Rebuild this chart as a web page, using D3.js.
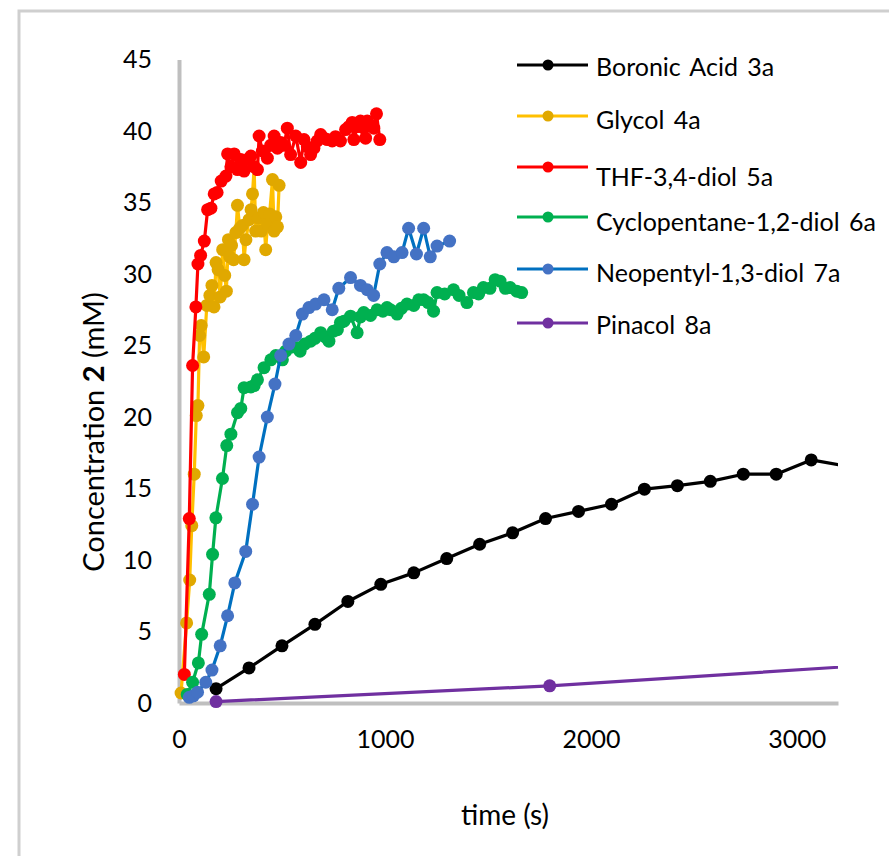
<!DOCTYPE html>
<html>
<head>
<meta charset="utf-8">
<script src="https://cdn.jsdelivr.net/npm/d3@7"></script>
<style>
  body { margin: 0; background: #fff; }
  svg { display: block; }
  text { font-family: Lato, "Open Sans", sans-serif; fill: #000; }
</style>
</head>
<body>
<svg id="chart" width="889" height="856"></svg>
<script>
// Time (s) / concentration (mM) pairs for each diol series
const boronicAcid = [
  [180, 1.0], [340, 2.45], [500, 4.0], [660, 5.5], [820, 7.1], [980, 8.3],
  [1140, 9.1], [1300, 10.1], [1460, 11.1], [1620, 11.9], [1780, 12.9], [1940, 13.4],
  [2100, 13.9], [2260, 14.95], [2420, 15.2], [2580, 15.5], [2740, 16.0], [2900, 16.0],
  [3070, 17.0], [3380, 16.2]
];
const glycol = [
  [10, 0.7], [37, 5.6], [52, 8.6], [62, 12.4], [74, 16.0], [84, 20.1], [92, 20.8],
  [100, 25.7], [108, 26.4], [120, 24.2], [135, 27.8], [150, 28.5], [160, 29.2],
  [170, 27.7], [180, 30.8], [190, 30.3], [200, 28.4], [212, 31.7], [222, 29.9],
  [230, 28.8], [240, 32.4], [246, 31.2], [255, 32.0], [265, 31.0], [276, 32.9],
  [284, 34.8], [295, 33.2], [308, 33.4], [316, 31.0], [325, 32.4], [340, 33.8],
  [350, 34.5], [357, 35.6], [365, 37.5], [372, 33.0], [385, 33.9], [400, 33.0],
  [410, 34.3], [421, 31.7], [430, 33.5], [440, 34.2], [454, 36.6], [462, 33.0],
  [470, 34.0], [478, 33.3], [486, 36.2]
];
const thfDiol = [
  [26, 2.0], [50, 12.9], [66, 23.6], [82, 27.7], [92, 30.7], [105, 31.3], [123, 32.3],
  [139, 34.5], [155, 34.6], [171, 35.6], [185, 35.7], [205, 36.5], [228, 36.85],
  [236, 38.4], [252, 37.5], [268, 38.4], [284, 37.3], [300, 38.0], [316, 37.2],
  [333, 38.0], [349, 38.25], [365, 37.5], [381, 37.3], [389, 39.65], [405, 38.6],
  [429, 38.1], [445, 39.0], [462, 39.65], [478, 38.8], [494, 39.2], [510, 39.0],
  [526, 40.2], [542, 38.35], [567, 39.65], [591, 37.8], [607, 39.4], [623, 38.9],
  [639, 38.35], [655, 38.8], [671, 39.3], [688, 39.75], [704, 39.5], [720, 39.4],
  [744, 39.3], [760, 39.6], [784, 39.3], [809, 40.1], [825, 40.3], [841, 40.6],
  [849, 39.4], [865, 40.3], [881, 40.7], [898, 40.2], [906, 39.5], [914, 40.7],
  [930, 40.4], [946, 40.2], [959, 41.2], [975, 39.4]
];
const cyclopentaneDiol = [
  [40, 0.6], [66, 1.45], [94, 2.8], [110, 4.8], [147, 7.6], [163, 10.4], [179, 12.95],
  [211, 15.7], [232, 18.0], [252, 18.8], [284, 20.3], [300, 20.6], [316, 22.05],
  [349, 22.1], [365, 22.2], [381, 22.6], [413, 23.45], [446, 24.0], [470, 24.3],
  [502, 24.0], [518, 24.6], [550, 24.9], [575, 24.85], [588, 24.6], [610, 25.1],
  [639, 25.3], [660, 25.5], [688, 25.9], [710, 25.6], [728, 25.3], [750, 26.0],
  [769, 26.1], [784, 26.6], [801, 26.7], [833, 27.05], [865, 25.9], [881, 27.0],
  [897, 27.3], [930, 27.1], [962, 27.5], [990, 27.4], [1010, 27.65], [1027, 27.5],
  [1059, 27.2], [1080, 27.6], [1107, 27.9], [1140, 27.8], [1164, 28.2], [1188, 28.2],
  [1210, 28.0], [1236, 27.4], [1253, 28.7], [1290, 28.6], [1333, 28.9], [1360, 28.5],
  [1398, 28.0], [1430, 28.7], [1455, 28.6], [1478, 29.05], [1510, 29.0], [1535, 29.6],
  [1559, 29.5], [1585, 29.0], [1608, 29.05], [1640, 28.8], [1664, 28.7]
];
const neopentylDiol = [
  [50, 0.4], [70, 0.5], [90, 0.75], [130, 1.45], [160, 2.3], [200, 4.0], [236, 6.1],
  [271, 8.4], [324, 10.6], [357, 13.9], [389, 17.2], [429, 20.0], [466, 22.3],
  [494, 24.3], [534, 25.1], [567, 25.7], [599, 27.2], [631, 27.65], [663, 27.9],
  [704, 28.2], [744, 27.5], [776, 29.0], [833, 29.75], [881, 29.2], [914, 28.9],
  [945, 28.5], [975, 30.7], [1010, 31.5], [1043, 31.2], [1083, 31.5], [1115, 33.2],
  [1153, 31.4], [1188, 33.2], [1220, 31.2], [1253, 31.95], [1314, 32.3]
];
const pinacol = [[180, 0.1], [1800, 1.2], [3600, 2.87]];

const seriesNames = [
  "Boronic Acid 3a", "Glycol 4a", "THF-3,4-diol 5a",
  "Cyclopentane-1,2-diol 6a", "Neopentyl-1,3-diol 7a", "Pinacol 8a"
];
const seriesData = [boronicAcid, glycol, thfDiol, cyclopentaneDiol, neopentylDiol, pinacol];
const lineColors = ["#000000", "#FFC000", "#FF0000", "#00B050", "#0070C0", "#7030A0"];
const markerColors = ["#000000", "#E0A800", "#FF0000", "#00B050", "#4472C4", "#7030A0"];

const xTicks = [0, 1000, 2000, 3000];
const yTicks = [0, 5, 10, 15, 20, 25, 30, 35, 40, 45];

const svg = d3.select("#chart");

// Outer chart frame
svg.append("rect")
  .attr("x", 19).attr("y", 11).attr("width", 1000).attr("height", 1000)
  .attr("fill", "none").attr("stroke", "#cfcfcf").attr("stroke-width", 3);

const x = d3.scaleLinear().domain([0, 3200]).range([179, 838]);
const y = d3.scaleLinear().domain([0, 45]).range([703, 59.5]);

// Axes (grey baseline, no tick marks)
const yAxis = svg.append("g").attr("transform", `translate(${x(0)},0)`)
  .call(d3.axisLeft(y).tickValues(yTicks).tickSize(0).tickSizeOuter(0).tickPadding(27));
const xAxis = svg.append("g").attr("transform", `translate(0,${y(0)})`)
  .call(d3.axisBottom(x).tickValues(xTicks).tickSize(0).tickSizeOuter(0).tickPadding(27).tickFormat(d3.format("d")));
[yAxis, xAxis].forEach(g => {
  g.select(".domain").attr("stroke", "#bfbfbf").attr("stroke-width", 4);
  g.selectAll("text").attr("font-size", 25).attr("font-family", "Lato, sans-serif").attr("fill", "#000");
});

// Axis titles
svg.append("text")
  .attr("x", 505).attr("y", 825).attr("text-anchor", "middle").attr("font-size", 28)
  .text("time (s)");
const yTitle = svg.append("text")
  .attr("transform", "translate(104,432) rotate(-90)")
  .attr("text-anchor", "middle").attr("font-size", 29);
yTitle.append("tspan").text("Concentration ");
yTitle.append("tspan").attr("font-weight", "bold").text("2");
yTitle.append("tspan").text(" (mM)");

// Plot area clipping on the right edge
svg.append("clipPath").attr("id", "plotClip")
  .append("rect").attr("x", 0).attr("y", 0).attr("width", 838).attr("height", 856);

const plot = svg.append("g").attr("clip-path", "url(#plotClip)");
const line = d3.line().x(d => x(d[0])).y(d => y(d[1]));

seriesData.forEach((data, i) => {
  const g = plot.append("g");
  g.append("path").datum(data)
    .attr("d", line).attr("fill", "none")
    .attr("stroke", lineColors[i]).attr("stroke-width", 3.2)
    .attr("stroke-linejoin", "round");
  g.selectAll("circle").data(data).join("circle")
    .attr("cx", d => x(d[0])).attr("cy", d => y(d[1]))
    .attr("r", 6.5).attr("fill", markerColors[i]);
});

// Legend
const legendRows = [65, 116, 167, 217, 269, 323];
const legendTextDy = [2, 4, 10, 5, 4, 2];
seriesNames.forEach((name, i) => {
  const g = svg.append("g").attr("transform", `translate(0,${legendRows[i]})`);
  g.append("line").attr("x1", 517).attr("x2", 588).attr("y1", 0).attr("y2", 0)
    .attr("stroke", lineColors[i]).attr("stroke-width", 3);
  g.append("circle").attr("cx", 548).attr("cy", 0).attr("r", 5.5).attr("fill", markerColors[i]);
  g.append("text").attr("x", 596).attr("y", legendTextDy[i]).attr("dy", "0.35em")
    .attr("font-size", 25).attr("word-spacing", 3).text(name);
});
</script>
</body>
</html>
